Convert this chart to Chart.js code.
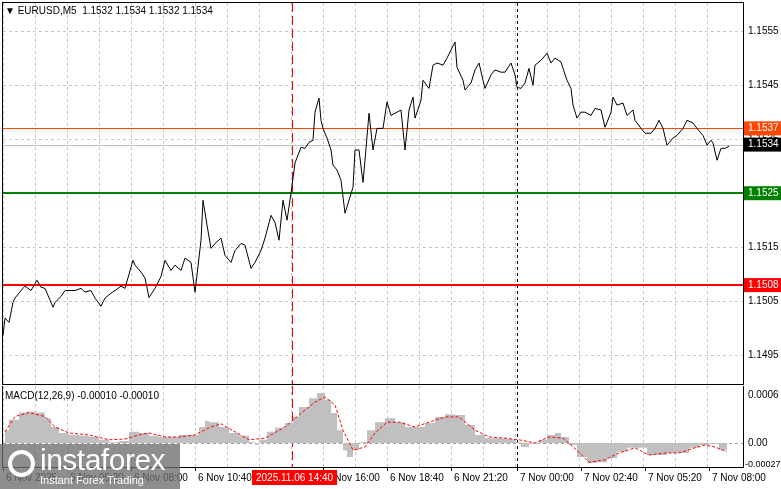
<!DOCTYPE html>
<html>
<head>
<meta charset="utf-8">
<script src="https://cdn.jsdelivr.net/npm/chart.js@4"></script>
<style>
body{margin:0;background:#fff;width:781px;height:489px;overflow:hidden;position:relative;font-family:"Liberation Sans",sans-serif}
#top{position:absolute;left:0;top:0}
#bot{position:absolute;left:0;top:386px}
#logo{position:absolute;left:0;top:444px;width:180px;height:45px;background:rgba(110,110,110,0.78);color:#fff}
#logo .a{position:absolute;left:40px;top:-1px;font:30px "Liberation Sans",sans-serif;letter-spacing:-0.5px}
#logo .b{position:absolute;left:40px;top:30px;font:11px "Liberation Sans",sans-serif}
#logo .c{position:absolute;left:8px;top:6px;width:27px;height:27px;border:4px solid #fff;border-radius:50%;box-sizing:border-box}
</style>
</head>
<body>
<canvas id="top" width="781" height="386"></canvas>
<canvas id="bot" width="781" height="103"></canvas>
<div id="logo"><div class="c"></div><div class="a">instaforex</div><div class="b">Instant Forex Trading</div></div>
<script>
// M5 bar numbers (0 = 6 Nov 02:35) and close prices
const priceBars = [0,1,3,5,6,9,11,14,17,19,21,25,26,29,31,34,36,39,41,44,46,49,51,54,56,59,61,65,66,69,71,73,76,79,81,84,86,89,91,94,96,99,100,102,104,106,109,111,114,116,119,121,124,126,129,131,134,136,138,140,142,144,146,149,151,153,155,156,158,159,160,162,164,165,167,169,171,175,176,178,180,181,183,185,187,190,192,194,196,199,200,201,203,205,206,209,210,213,215,217,220,222,226,227,230,231,234,236,238,240,241,244,246,249,251,254,256,257,259,261,263,265,266,269,272,274,276,279,280,282,284,285,287,289,291,294,296,299,301,304,305,307,310,312,315,316,319,321,324,326,328,330,332,335,337,340,342,345,347,350,352,354,355,357,359,361,363];
const priceVals = [1.14987,1.15019,1.15011,1.15048,1.15056,1.15070,1.15078,1.15070,1.15089,1.15076,
  1.15074,1.15039,1.15048,1.15059,1.15070,1.15070,1.15070,1.15074,1.15067,1.15070,
  1.15056,1.15041,1.15056,1.15065,1.15070,1.15078,1.15074,1.15126,1.15117,1.15104,
  1.15093,1.15057,1.15074,1.15096,1.15126,1.15107,1.15117,1.15107,1.15130,1.15122,
  1.15067,1.15163,1.15237,1.15191,1.15148,1.15157,1.15167,1.15135,1.15122,1.15144,
  1.15157,1.15154,1.15111,1.15122,1.15144,1.15167,1.15209,1.15196,1.15163,1.15237,
  1.15200,1.15250,1.15306,1.15335,1.15333,1.15344,1.15348,1.15400,1.15426,1.15385,
  1.15370,1.15352,1.15330,1.15302,1.15293,1.15274,1.15213,1.15261,1.15330,1.15330,
  1.15270,1.15311,1.15398,1.15330,1.15370,1.15370,1.15419,1.15394,1.15398,1.15404,
  1.15367,1.15330,1.15404,1.15428,1.15389,1.15422,1.15459,1.15444,1.15487,1.15491,
  1.15487,1.15500,1.15530,1.15483,1.15459,1.15441,1.15454,1.15478,1.15491,1.15459,
  1.15444,1.15469,1.15478,1.15474,1.15474,1.15491,1.15469,1.15446,1.15444,1.15454,
  1.15481,1.15450,1.15487,1.15496,1.15509,1.15491,1.15500,1.15493,1.15481,1.15459,
  1.15444,1.15413,1.15389,1.15400,1.15400,1.15394,1.15407,1.15404,1.15372,1.15400,
  1.15428,1.15413,1.15417,1.15394,1.15404,1.15385,1.15370,1.15361,1.15361,1.15370,
  1.15385,1.15370,1.15339,1.15352,1.15357,1.15370,1.15385,1.15380,1.15370,1.15357,
  1.15339,1.15348,1.15343,1.15311,1.15333,1.15333,1.15337];

const histBars = [1,3,8,12,16,21,24,28,33,38,43,48,53,58,63,68,73,78,83,88,93,98,101,103,108,113,118,123,126,128,132,136,141,145,148,153,157,161,164,167,170,172,175,178,182,186,191,196,201,206,211,216,221,226,231,236,241,246,251,256,259,263,268,272,276,279,283,287,292,297,302,307,312,317,322,327,332,337,343,348,353,358,362];
const histVals = [0.00016,0.00029,0.00038,0.00039,0.00038,0.00031,0.0002,0.000125,0.0001,0.00009,0.000075,0.00004,0.00001,0.000025,0.00014,0.000125,0.00009,0.000075,0.000075,0.0001,0.0001,0.0002,0.000275,0.00026,0.0002,0.000125,0.00009,0.00001,-0.000025,0.00004,0.00014,0.00019,0.00025,0.000325,0.00045,0.00056,0.000625,0.00054,0.000375,0.00016,-0.00009,-0.000175,-0.00009,0.00001,0.00016,0.00026,0.00031,0.00026,0.0002,0.0002,0.00025,0.000325,0.00036,0.00035,0.000225,0.0001,0.00006,0.00006,0.00005,0.00001,-0.00005,-0.00001,0.00004,0.0001,0.000125,0.000075,-0.000025,-0.000175,-0.00025,-0.00024,-0.00019,-0.00011,-0.00006,-0.00006,-0.00015,-0.00015,-0.000125,-0.000125,-0.00006,-0.000025,-0.00001,-0.00009,-0.000125];

const sigBars = [1,6,13,21,26,33,43,53,61,68,73,81,88,96,103,109,116,123,131,141,148,156,161,166,170,175,181,186,192,198,206,213,221,228,236,243,251,258,266,273,280,287,293,301,308,316,323,331,338,346,351,356,362];
const sigVals = [0.00014,0.00033,0.00038,0.00033,0.0002,0.000125,0.0001,0.00004,0.00005,0.0001,0.000125,0.000075,0.000075,0.0001,0.00019,0.00024,0.00014,0.00004,0.00006,0.0002,0.00035,0.00051,0.000575,0.000475,0.00016,-0.00009,-0.00005,0.000125,0.00026,0.00026,0.0002,0.00026,0.000325,0.000325,0.00016,0.000075,0.00006,0.00004,0,0.000075,0.00006,-0.00009,-0.00024,-0.00021,-0.000125,-0.00006,-0.00015,-0.000125,-0.000125,-0.00006,-0.000025,-0.00005,-0.00011];

const priceTicks = [1.1555,1.1545,1.1535,1.1525,1.1515,1.1505,1.1495];
const timeTickBars = [0,32,64,96,160,192,224,257,289,321,353];
const timeTickLabels = ["6 Nov 2025","6 Nov 05:20","6 Nov 08:00","6 Nov 10:40","6 Nov 16:00","6 Nov 18:40","6 Nov 21:20","7 Nov 00:00","7 Nov 02:40","7 Nov 05:20","7 Nov 08:00"];
const levels = [
  {v:1.1537, color:'#ff4500', w:1, text:'1.1537', bg:'#ff4500', fg:'#fff'},
  {v:1.1534, color:'#c0c0c0', w:1, text:'1.1534', bg:'#000', fg:'#fff'},
  {v:1.1525, color:'#008000', w:2, text:'1.1525', bg:'#008000', fg:'#fff'},
  {v:1.1508, color:'#ff0000', w:2, text:'1.1508', bg:'#ff0000', fg:'#fff'}
];
const crossBar = 144.5, crossLabel = "2025.11.06 14:40";
const dayBar = 257;

const F = '10px "Liberation Sans", sans-serif';
const pts = (xs, ys) => xs.map((x, i) => ({x: x, y: ys[i]}));
const gridCol = '#c8c8c8';

function vline(ctx, x, y0, y1, color, dash) {
  ctx.save(); ctx.strokeStyle = color; ctx.lineWidth = 1; ctx.setLineDash(dash);
  ctx.beginPath(); ctx.moveTo(Math.round(x) + .5, y0); ctx.lineTo(Math.round(x) + .5, y1); ctx.stroke(); ctx.restore();
}

const xScale = () => ({
  type: 'linear', min: 0, max: 370, display: true,
  grid: {color: gridCol, drawTicks: false},
  border: {display: false, dash: [3,3]},
  ticks: {display: false, stepSize: 16, maxTicksLimit: 30}
});

// price panel
new Chart(document.getElementById('top'), {
  type: 'line',
  data: {datasets: [{data: pts(priceBars, priceVals), borderColor: '#000', borderWidth: 1, pointRadius: 0, tension: 0}]},
  options: {
    responsive: false, animation: false,
    layout: {padding: {left: 3, top: 3, right: 0, bottom: 2}},
    plugins: {legend: {display: false}, tooltip: {enabled: false}},
    scales: {
      x: xScale(),
      y: {position: 'right', min: 1.14897, max: 1.15602,
        afterBuildTicks: s => { s.ticks = priceTicks.map(v => ({value: v})); },
        afterFit: s => { s.width = 38; },
        grid: {color: gridCol, drawTicks: false},
        border: {display: false, dash: [3,3]},
        ticks: {display: false}}
    }
  },
  plugins: [{
    id: 'deco',
    beforeDatasetsDraw(c) {
      const ctx = c.ctx, a = c.chartArea, x = c.scales.x, y = c.scales.y;
      vline(ctx, x.getPixelForValue(crossBar), a.top, a.bottom, '#ff0000', [9,4]);
      vline(ctx, x.getPixelForValue(dayBar), a.top, a.bottom, '#000', [3,3]);
      levels.forEach(l => {
        const py = Math.round(y.getPixelForValue(l.v)) + (l.w === 1 ? .5 : 0);
        ctx.save(); ctx.strokeStyle = l.color; ctx.lineWidth = l.w;
        ctx.beginPath(); ctx.moveTo(a.left, py); ctx.lineTo(a.right, py); ctx.stroke(); ctx.restore();
      });
    },
    afterDraw(c) {
      const ctx = c.ctx, a = c.chartArea, y = c.scales.y;
      ctx.save();
      ctx.strokeStyle = '#000'; ctx.lineWidth = 1;
      ctx.strokeRect(a.left - .5, a.top - .5, a.right - a.left + 1, a.bottom - a.top + 1);
      ctx.font = F; ctx.textBaseline = 'middle'; ctx.fillStyle = '#000';
      priceTicks.forEach(v => ctx.fillText(v.toFixed(4), a.right + 5, y.getPixelForValue(v)));
      levels.forEach(l => {
        const py = y.getPixelForValue(l.v);
        ctx.fillStyle = l.bg; ctx.fillRect(a.right + 1, py - 7, 37, 14);
        ctx.fillStyle = l.fg; ctx.fillText(l.text, a.right + 5, py);
      });
      ctx.fillStyle = '#000';
      ctx.fillText('\u25BC EURUSD,M5  1.1532 1.1534 1.1532 1.1534', 5, 11);
      ctx.restore();
    }
  }]
});

// MACD panel
new Chart(document.getElementById('bot'), {
  type: 'line',
  data: {datasets: [
    {data: pts(histBars, histVals), borderWidth: 0, backgroundColor: '#c0c0c0', fill: 'origin', pointRadius: 0, stepped: true, order: 2},
    {data: pts(sigBars, sigVals), borderColor: '#ff0000', borderWidth: 1, borderDash: [3,2], pointRadius: 0, fill: false, order: 1}
  ]},
  options: {
    responsive: false, animation: false,
    layout: {padding: {left: 3, top: 0, right: 0, bottom: 22}},
    plugins: {legend: {display: false}, tooltip: {enabled: false}},
    scales: {
      x: xScale(),
      y: {position: 'right', min: -0.0003, max: 0.000712,
        afterBuildTicks: s => { s.ticks = [{value: 0}]; },
        afterFit: s => { s.width = 38; },
        grid: {display: false}, border: {display: false}, ticks: {display: false}}
    }
  },
  plugins: [{
    id: 'macdDeco',
    beforeDatasetsDraw(c) {
      const ctx = c.ctx, a = c.chartArea, x = c.scales.x, y = c.scales.y;
      vline(ctx, x.getPixelForValue(crossBar), a.top, a.bottom, '#ff0000', [9,4]);
      vline(ctx, x.getPixelForValue(dayBar), a.top, a.bottom, '#000', [3,3]);
      ctx.save(); ctx.strokeStyle = '#a0a0a0'; ctx.setLineDash([3,3]);
      const py = Math.round(y.getPixelForValue(0)) + .5;
      ctx.beginPath(); ctx.moveTo(a.left, py); ctx.lineTo(a.right, py); ctx.stroke(); ctx.restore();
    },
    afterDraw(c) {
      const ctx = c.ctx, a = c.chartArea, x = c.scales.x, y = c.scales.y;
      ctx.save();
      ctx.strokeStyle = '#000'; ctx.lineWidth = 1;
      ctx.strokeRect(a.left - .5, a.top - .5, a.right - a.left + 1, a.bottom - a.top + 1);
      ctx.font = F; ctx.fillStyle = '#000'; ctx.textBaseline = 'middle';
      ctx.fillText('0.0006', a.right + 5, y.getPixelForValue(0.0006));
      ctx.fillText('0.00', a.right + 5, y.getPixelForValue(0));
      ctx.font = '9px "Liberation Sans", sans-serif';
      ctx.fillText('-0.00027', a.right + 2, y.getPixelForValue(-0.00027));
      ctx.font = F;
      ctx.fillText('MACD(12,26,9) -0.00010 -0.00010', 5, a.top + 10);
      timeTickBars.forEach((b, i) => {
        const px = x.getPixelForValue(b);
        ctx.fillRect(Math.round(px), a.bottom, 1, 4);
        ctx.fillText(timeTickLabels[i], px + 3, a.bottom + 11);
      });
      const cx = x.getPixelForValue(crossBar);
      const w = ctx.measureText(crossLabel).width + 8;
      ctx.fillStyle = '#ff0000'; ctx.fillRect(cx - 40, a.bottom + 3, w, 15);
      ctx.fillStyle = '#fff'; ctx.fillText(crossLabel, cx - 36, a.bottom + 11);
      ctx.restore();
    }
  }]
});
</script>
</body>
</html>
